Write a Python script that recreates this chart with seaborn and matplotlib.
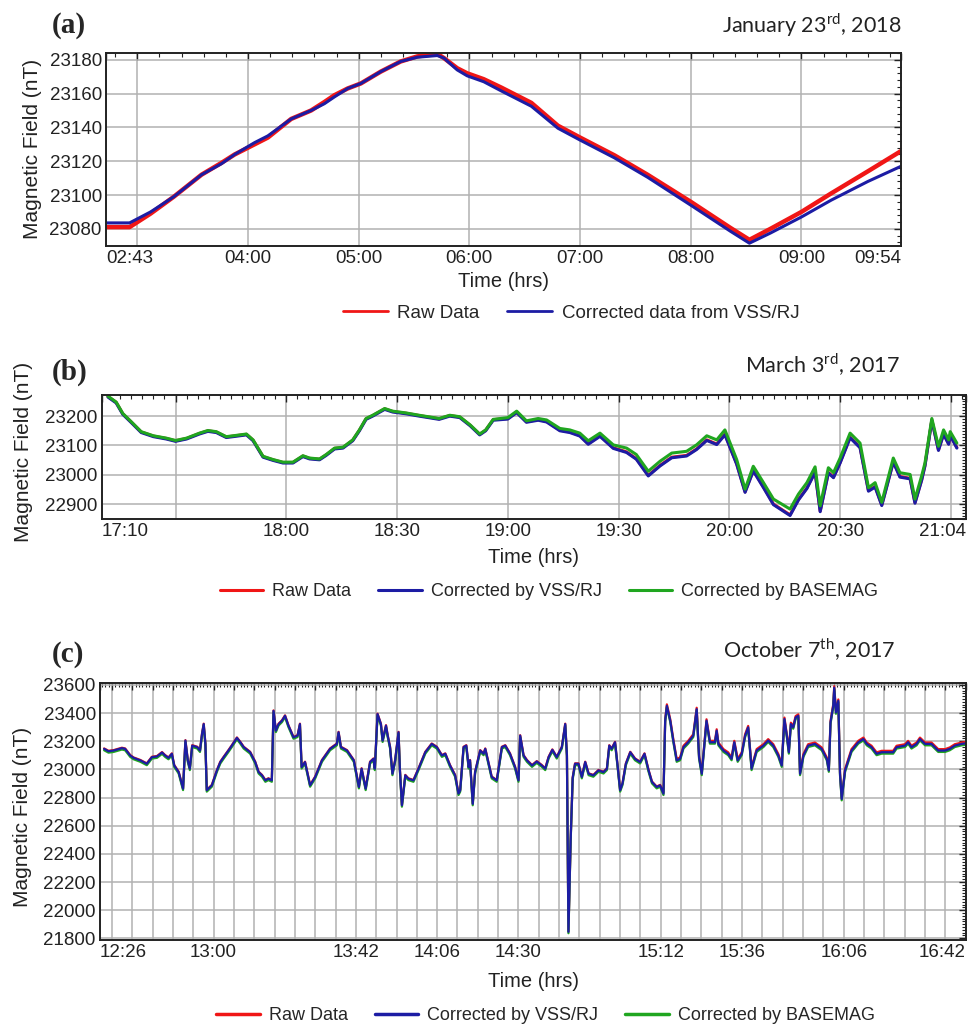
import matplotlib
matplotlib.use("Agg")
import matplotlib.pyplot as plt
import seaborn as sns
from matplotlib.lines import Line2D
from matplotlib.ticker import MultipleLocator

# ---------------- data ----------------
# (a) January 23rd 2018, time in decimal hours
a_time = [2.72, 2.93, 3.12, 3.33, 3.58, 3.76, 3.88, 4.06, 4.18, 4.39, 4.57, 4.69, 4.78,
          4.90, 5.02, 5.20, 5.38, 5.53, 5.71, 5.77, 5.89, 5.98, 6.13, 6.29, 6.56, 6.80,
          7.00, 7.31, 7.61, 8.00, 8.36, 8.53, 8.72, 9.00, 9.27, 9.60, 9.90]
a_raw = [23081, 23081, 23089, 23099, 23112, 23119, 23124, 23130, 23134, 23145, 23150,
         23155, 23159, 23163, 23166, 23173, 23179, 23182, 23183.5, 23181, 23175, 23172,
         23168.5, 23163.5, 23154.5, 23141, 23134, 23123.5, 23112, 23096, 23080.5, 23073.5,
         23080, 23090, 23101, 23114, 23126]
a_vss = [23083.5, 23083.5, 23090, 23099, 23112, 23118.5, 23124, 23131, 23135, 23145, 23150,
         23154, 23158, 23163, 23166, 23173, 23179, 23181.5, 23182.5, 23181, 23174, 23170.5,
         23167, 23161.5, 23152.5, 23139.5, 23132.5, 23122, 23110.5, 23094, 23078.5, 23071.5,
         23077.5, 23087, 23097, 23108, 23117]
a_tick_pos = [2.717, 3, 4, 5, 6, 7, 8, 9, 9.9]
a_tick_lab = ["02:43", "", "04:00", "05:00", "06:00", "07:00", "08:00", "09:00", "09:54"]

# (b) March 3rd 2017, time in decimal hours
b_time = [17.195, 17.232, 17.262, 17.30, 17.345, 17.40, 17.458, 17.50, 17.55, 17.608,
          17.646, 17.684, 17.729, 17.76, 17.82, 17.85, 17.895, 17.94, 17.985, 18.03,
          18.075, 18.105, 18.15, 18.18, 18.218, 18.256, 18.30, 18.33, 18.36, 18.39,
          18.444, 18.48, 18.54, 18.60, 18.69, 18.738, 18.783, 18.83, 18.873, 18.90,
          18.934, 19.0, 19.04, 19.084, 19.137, 19.175, 19.235, 19.28, 19.325, 19.363,
          19.416, 19.476, 19.536, 19.58, 19.634, 19.687, 19.74, 19.807, 19.852, 19.898,
          19.943, 19.98, 20.033, 20.071, 20.108, 20.154, 20.199, 20.274, 20.312, 20.35,
          20.387, 20.41, 20.447, 20.47, 20.5, 20.545, 20.59, 20.628, 20.658, 20.688,
          20.74, 20.77, 20.816, 20.838, 20.868, 20.883, 20.914, 20.944, 20.967, 20.99,
          20.997, 21.027]
b_basemag = [23268, 23248, 23209, 23181, 23147, 23133, 23125, 23117, 23125, 23142,
             23151, 23147, 23130, 23133, 23139, 23119, 23063, 23052, 23043, 23043,
             23065, 23057, 23054, 23069, 23091, 23094, 23119, 23153, 23192, 23203,
             23226, 23217, 23211, 23203, 23192, 23203, 23198, 23170, 23139, 23153,
             23189, 23195, 23217, 23184, 23192, 23187, 23158, 23153, 23142, 23116,
             23142, 23102, 23091, 23069, 23012, 23046, 23074, 23080, 23102, 23133,
             23119, 23153, 23052, 22951, 23029, 22973, 22917, 22883, 22934, 22973,
             23027, 22894, 23024, 23007, 23057, 23142, 23108, 22956, 22973, 22906,
             23057, 23007, 23001, 22917, 22996, 23040, 23192, 23097, 23153, 23119,
             23147, 23108]
b_vss = [23265, 23245, 23206, 23178, 23144, 23130, 23122, 23114, 23122, 23139,
         23148, 23144, 23127, 23130, 23136, 23116, 23060, 23049, 23040, 23040,
         23062, 23054, 23051, 23066, 23088, 23091, 23116, 23150, 23189, 23200,
         23223, 23214, 23208, 23200, 23189, 23200, 23195, 23167, 23136, 23150,
         23186, 23190, 23212, 23179, 23186, 23180, 23150, 23144, 23132, 23104,
         23131, 23090, 23076, 23053, 22996, 23030, 23058, 23064, 23086, 23117,
         23103, 23136, 23036, 22940, 23013, 22956, 22898, 22861, 22914, 22953,
         23008, 22874, 23006, 22990, 23040, 23126, 23092, 22944, 22958, 22895,
         23043, 22992, 22986, 22903, 22981, 23030, 23185, 23083, 23138, 23104,
         23134, 23091]
b_raw = [23267, 23247, 23208, 23180, 23146, 23132, 23124, 23116, 23124, 23141,
         23150, 23146, 23129, 23132, 23138, 23118, 23062, 23051, 23042, 23042,
         23064, 23056, 23053, 23068, 23090, 23093, 23118, 23152, 23191, 23202,
         23225, 23216, 23210, 23202, 23191, 23202, 23197, 23169, 23138, 23152,
         23188, 23192, 23214, 23181, 23188, 23182, 23152, 23146, 23134, 23106,
         23133, 23092, 23078, 23055, 22998, 23032, 23060, 23066, 23088, 23119,
         23105, 23138, 23038, 22942, 23015, 22958, 22900, 22863, 22916, 22955,
         23010, 22876, 23008, 22992, 23042, 23128, 23094, 22946, 22960, 22897,
         23045, 22994, 22988, 22905, 22983, 23032, 23187, 23085, 23140, 23106,
         23136, 23093]
b_tick_pos = [17.1667, 17.5, 18, 18.5, 19, 19.5, 20, 20.5, 21, 21.0667]
b_tick_lab = ["17:10", "", "18:00", "18:30", "19:00", "19:30", "20:00", "20:30", "", "21:04"]

# (c) October 7th 2017, time in minutes after 12:00
c_time = [27.7, 29.0, 30.5, 32.95, 33.9, 35.4, 36.4, 38.4, 40.3, 41.8,
          43.3, 44.8, 45.7, 46.7, 47.7, 48.4, 49.7, 51.0, 51.7, 52.4,
          53.0, 53.7, 55.2, 56.0, 56.6, 57.1, 57.6, 58.0, 59.5, 61.0,
          62.0, 63.0, 64.4, 65.4, 66.9, 67.9, 68.9, 70.8, 72.3, 73.3,
          74.3, 75.3, 76.2, 77.2, 77.7, 78.4, 79.2, 80.2, 81.1, 82.1,
          83.6, 84.8, 85.5, 86.0, 87.0, 88.5, 90.0, 92.0, 94.4, 96.4,
          96.9, 97.6, 99.4, 101.4, 102.9, 103.7, 104.9, 106.2, 107.2, 107.6,
          108.4, 109.4, 109.9, 110.9, 111.4, 112.1, 112.8, 113.6, 114.6, 115.0,
          115.6, 116.6, 117.5, 119.0, 120.5, 122.5, 124.4, 125.9, 127.4, 128.4,
          129.8, 131.3, 132.3, 132.8, 133.8, 134.6, 135.3, 135.7, 136.5, 137.2,
          138.7, 139.7, 140.2, 141.2, 142.1, 143.6, 145.1, 146.1, 147.5, 149.0,
          150.0, 150.5, 151.5, 152.5, 154.0, 155.4, 156.9, 157.9, 158.9, 160.0,
          161.3, 162.8, 163.8, 164.3, 164.75, 165.4, 166.0, 166.7, 167.7, 168.7,
          169.7, 170.7, 172.1, 173.6, 175.1, 176.1, 176.8, 177.5, 178.5, 179.3,
          180.0, 180.7, 181.7, 183.0, 184.4, 185.9, 187.2, 188.4, 189.4, 190.8,
          191.8, 192.8, 193.3, 193.8, 194.8, 195.7, 196.7, 197.7, 198.7, 200.1,
          201.6, 202.6, 203.3, 204.1, 204.9, 205.5, 206.5, 208.0, 208.5, 209.0,
          210.5, 211.9, 212.9, 213.7, 214.7, 215.9, 216.9, 217.8, 218.8, 220.3,
          222.3, 223.7, 225.2, 226.7, 227.7, 228.5, 229.2, 229.8, 230.4, 231.1,
          231.8, 232.6, 233.1, 234.1, 235.5, 237.5, 239.5, 241.0, 241.6, 242.1,
          242.9, 243.2, 243.7, 244.4, 244.9, 245.4, 246.4, 248.3, 250.3, 251.8,
          252.8, 254.2, 255.7, 257.2, 260.6, 261.6, 264.1, 265.0, 266.0, 267.5,
          268.5, 270.0, 271.9, 273.9, 275.9, 277.3, 278.8, 280.8, 282.0]
c_vss = [23146, 23129, 23134, 23151, 23146, 23099, 23082, 23064, 23040, 23087,
         23092, 23120, 23099, 23082, 23111, 23028, 22981, 22863, 23205, 23064,
         23005, 23169, 23158, 23134, 23252, 23322, 23181, 22852, 22887, 22993,
         23052, 23087, 23134, 23169, 23224, 23193, 23158, 23122, 23052, 22981,
         22958, 22922, 22934, 22922, 23416, 23275, 23322, 23346, 23381, 23311,
         23228, 23240, 23322, 23016, 23052, 22887, 22946, 23064, 23146, 23181,
         23264, 23158, 23134, 23064, 22875, 23005, 22863, 23052, 23075, 23005,
         23393, 23322, 23205, 23311, 23240, 23158, 22969, 23064, 23264, 23000,
         22745, 22958, 22934, 22922, 23005, 23122, 23181, 23158, 23099, 23111,
         23028, 22958, 22828, 22852, 23158, 23169, 23016, 23064, 22755, 22981,
         23134, 23111, 23146, 23040, 22946, 22922, 23158, 23169, 23111, 23016,
         22922, 23240, 23099, 23064, 23028, 23056, 23028, 23005, 23087, 23139,
         23087, 23158, 23322, 23100, 21846, 22500, 22940, 23040, 23040, 22946,
         23052, 22969, 22958, 22993, 22981, 23005, 23169, 23146, 23193, 23016,
         22852, 22899, 23040, 23122, 23075, 23052, 23111, 22993, 22911, 22875,
         22887, 22828, 23346, 23452, 23346, 23205, 23064, 23075, 23158, 23193,
         23240, 23428, 23087, 22969, 23181, 23346, 23193, 23193, 23275, 23181,
         23134, 23111, 23075, 23193, 23064, 23111, 23240, 23299, 23005, 23134,
         23169, 23205, 23169, 23099, 23028, 23358, 23240, 23122, 23322, 23299,
         23369, 23381, 22969, 23099, 23169, 23181, 23146, 23075, 22993, 23334,
         23452, 23581, 23405, 23487, 22969, 22790, 22993, 23134, 23193, 23216,
         23181, 23158, 23111, 23122, 23122, 23158, 23169, 23193, 23158, 23181,
         23216, 23181, 23181, 23134, 23134, 23146, 23169, 23181, 23185]
c_basemag = [23136, 23119, 23124, 23141, 23136, 23089, 23072, 23054, 23030, 23077,
             23082, 23110, 23089, 23072, 23101, 23018, 22971, 22853, 23195, 23054,
             22995, 23159, 23148, 23124, 23242, 23312, 23171, 22842, 22877, 22983,
             23042, 23077, 23124, 23159, 23214, 23183, 23148, 23112, 23042, 22971,
             22948, 22912, 22924, 22912, 23406, 23265, 23312, 23336, 23371, 23301,
             23218, 23230, 23312, 23006, 23042, 22877, 22936, 23054, 23136, 23171,
             23254, 23148, 23124, 23054, 22865, 22995, 22853, 23042, 23065, 22995,
             23383, 23312, 23195, 23301, 23230, 23148, 22959, 23054, 23254, 22990,
             22735, 22948, 22924, 22912, 22995, 23112, 23171, 23148, 23089, 23101,
             23018, 22948, 22818, 22842, 23148, 23159, 23006, 23054, 22745, 22971,
             23124, 23101, 23136, 23030, 22936, 22912, 23148, 23159, 23101, 23006,
             22912, 23230, 23089, 23054, 23018, 23046, 23018, 22995, 23077, 23129,
             23077, 23148, 23312, 23090, 21836, 22490, 22930, 23030, 23030, 22936,
             23042, 22959, 22948, 22983, 22971, 22995, 23159, 23136, 23183, 23006,
             22842, 22889, 23030, 23112, 23065, 23042, 23101, 22983, 22901, 22865,
             22877, 22818, 23336, 23442, 23336, 23195, 23054, 23065, 23148, 23183,
             23230, 23418, 23077, 22959, 23171, 23336, 23183, 23183, 23265, 23171,
             23124, 23101, 23065, 23183, 23054, 23101, 23230, 23289, 22995, 23124,
             23159, 23195, 23159, 23089, 23018, 23348, 23230, 23112, 23312, 23289,
             23359, 23371, 22959, 23089, 23159, 23171, 23136, 23065, 22983, 23324,
             23442, 23571, 23395, 23477, 22959, 22780, 22983, 23124, 23183, 23206,
             23171, 23148, 23101, 23112, 23112, 23148, 23159, 23183, 23148, 23171,
             23206, 23171, 23171, 23124, 23124, 23136, 23159, 23171, 23175]
c_raw = [23149, 23132, 23137, 23154, 23149, 23102, 23085, 23067, 23043, 23090,
         23095, 23123, 23102, 23085, 23114, 23031, 22984, 22866, 23208, 23067,
         23008, 23172, 23161, 23137, 23255, 23325, 23184, 22855, 22890, 22996,
         23055, 23090, 23137, 23172, 23227, 23196, 23161, 23125, 23055, 22984,
         22961, 22925, 22937, 22925, 23419, 23278, 23325, 23349, 23384, 23314,
         23231, 23243, 23325, 23019, 23055, 22890, 22949, 23067, 23149, 23184,
         23267, 23161, 23137, 23067, 22878, 23008, 22866, 23055, 23078, 23008,
         23396, 23325, 23208, 23314, 23243, 23161, 22972, 23067, 23267, 23003,
         22748, 22961, 22937, 22925, 23008, 23125, 23184, 23161, 23102, 23114,
         23031, 22961, 22831, 22855, 23161, 23172, 23019, 23067, 22758, 22984,
         23137, 23114, 23149, 23043, 22949, 22925, 23161, 23172, 23114, 23019,
         22925, 23243, 23102, 23067, 23031, 23059, 23031, 23008, 23090, 23142,
         23090, 23161, 23325, 23103, 21849, 22503, 22943, 23043, 23043, 22949,
         23055, 22972, 22961, 22996, 22984, 23008, 23172, 23149, 23196, 23019,
         22855, 22902, 23043, 23125, 23078, 23055, 23114, 22996, 22914, 22878,
         22890, 22838, 23356, 23462, 23356, 23215, 23074, 23085, 23168, 23203,
         23250, 23438, 23097, 22979, 23191, 23356, 23203, 23203, 23285, 23191,
         23144, 23121, 23085, 23203, 23074, 23121, 23250, 23309, 23015, 23144,
         23179, 23215, 23179, 23109, 23038, 23368, 23250, 23132, 23332, 23309,
         23379, 23391, 22979, 23109, 23179, 23191, 23156, 23085, 23003, 23344,
         23462, 23591, 23415, 23497, 22979, 22800, 23003, 23144, 23203, 23226,
         23191, 23168, 23121, 23132, 23132, 23168, 23179, 23203, 23168, 23191,
         23226, 23191, 23191, 23144, 23144, 23156, 23179, 23191, 23195]
c_grid_min = list(range(30, 283, 6))
c_tick_lab = {26.5: "12:26", 60: "13:00", 102: "13:42", 126: "14:06", 150: "14:30",
              192: "15:12", 216: "15:36", 246: "16:06", 282: "16:42"}

RED = "#f01616"
BLUE = "#1c1ca4"
GREEN = "#20a620"

sns.set_theme(style="white")
plt.rcParams["font.family"] = ["Liberation Sans", "DejaVu Sans"]
plt.rcParams["mathtext.fontset"] = "custom"
plt.rcParams["mathtext.rm"] = "Lato"

fig = plt.figure(figsize=(9.76, 10.29), dpi=100)
fig.patch.set_facecolor("white")

ax_a = fig.add_axes([0.1086, 0.7612, 0.8146, 0.1873])
ax_b = fig.add_axes([0.1042, 0.4956, 0.8852, 0.1205])
ax_c = fig.add_axes([0.1025, 0.0865, 0.8873, 0.2495])


def style_axis(ax, ticks, labels):
    ax.set_facecolor("white")
    for s in ax.spines.values():
        s.set_visible(True)
        s.set_color("#222222")
        s.set_linewidth(1.4)
    ax.set_xticks(ticks)
    ax.set_xticklabels(labels)
    tl = ax.get_xticklabels()
    tl[0].set_ha("left")
    tl[-1].set_ha("right")
    ax.grid(True, which="major", color="#b2b2b2", linewidth=1.1)
    ax.set_axisbelow(True)
    ax.tick_params(which="both", direction="in", top=True, right=True,
                   labelsize=13.5, pad=3, colors="#222222", labelcolor="#222222")
    ax.tick_params(which="major", length=5, width=1)
    ax.tick_params(which="minor", length=3, width=0.8)
    ax.set_xlabel("Time (hrs)", fontsize=14.5, color="#222222")
    ax.set_ylabel("Magnetic Field (nT)", fontsize=15, color="#222222")


# ---- panel (a)
sns.lineplot(x=a_time, y=a_raw, ax=ax_a, color=RED, linewidth=3.2,
             estimator=None, sort=False, legend=False)
sns.lineplot(x=a_time, y=a_vss, ax=ax_a, color=BLUE, linewidth=2.2,
             estimator=None, sort=False, legend=False)
ax_a.set_xlim(2.717, 9.9)
ax_a.set_ylim(23070, 23184)
ax_a.set_yticks([23080, 23100, 23120, 23140, 23160, 23180])
ax_a.yaxis.set_minor_locator(MultipleLocator(4))
ax_a.xaxis.set_minor_locator(MultipleLocator(0.2))
style_axis(ax_a, a_tick_pos, a_tick_lab)
ax_a.xaxis.set_label_coords(0.5, -0.135)
ax_a.yaxis.set_label_coords(-0.081, 0.5)

# ---- panel (b)
sns.lineplot(x=b_time, y=b_raw, ax=ax_b, color=RED, linewidth=2.2,
             estimator=None, sort=False, legend=False)
sns.lineplot(x=b_time, y=b_vss, ax=ax_b, color=BLUE, linewidth=2.2,
             estimator=None, sort=False, legend=False)
sns.lineplot(x=b_time, y=b_basemag, ax=ax_b, color=GREEN, linewidth=2.2,
             estimator=None, sort=False, legend=False)
ax_b.set_xlim(17.1667, 21.0667)
ax_b.set_ylim(22849, 23272)
ax_b.set_yticks([22900, 23000, 23100, 23200])
ax_b.yaxis.set_minor_locator(MultipleLocator(10))
ax_b.xaxis.set_minor_locator(MultipleLocator(0.05))
style_axis(ax_b, b_tick_pos, b_tick_lab)
ax_b.xaxis.set_label_coords(0.5, -0.23)
ax_b.yaxis.set_label_coords(-0.079, 0.545)

# ---- panel (c)
sns.lineplot(x=c_time, y=c_raw, ax=ax_c, color=RED, linewidth=1.6,
             estimator=None, sort=False, legend=False)
sns.lineplot(x=c_time, y=c_basemag, ax=ax_c, color=GREEN, linewidth=1.6,
             estimator=None, sort=False, legend=False)
sns.lineplot(x=c_time, y=c_vss, ax=ax_c, color=BLUE, linewidth=1.6,
             estimator=None, sort=False, legend=False)
ax_c.set_xlim(26.5, 282.1)
ax_c.set_ylim(21788, 23612)
ax_c.set_yticks(list(range(21800, 23601, 200)))
ax_c.yaxis.set_minor_locator(MultipleLocator(20))
ax_c.xaxis.set_minor_locator(MultipleLocator(1))
c_ticks = [26.5] + c_grid_min
style_axis(ax_c, c_ticks, [c_tick_lab.get(t, "") for t in c_ticks])
ax_c.xaxis.set_label_coords(0.5, -0.125)
ax_c.yaxis.set_label_coords(-0.079, 0.48)

# ---- panel letters and dates
for lab, yb in [("(a)", 33), ("(b)", 380), ("(c)", 662)]:
    fig.text(52 / 976, 1 - yb / 1029, lab, fontsize=21, fontweight="bold",
             family="Liberation Serif", va="baseline", ha="left")
for txt, xr, yb in [("January 23$^{\\mathrm{rd}}$, 2018", 902, 33),
                    ("March 3$^{\\mathrm{rd}}$, 2017", 900, 373),
                    ("October 7$^{\\mathrm{th}}$, 2017", 896, 658)]:
    fig.text(xr / 976, 1 - yb / 1029, txt, fontsize=15.5, family="Lato",
             va="baseline", ha="right", color="#222222")

# ---- legends
def handle(c, lw, lab):
    return Line2D([], [], color=c, linewidth=lw, label=lab)

leg_kw = dict(loc="center", frameon=False, handlelength=2.4,
              handletextpad=0.5, columnspacing=1.5, borderaxespad=0)
fig.legend(handles=[handle(RED, 2, "Raw Data"), handle(BLUE, 2, "Corrected data from VSS/RJ")],
           ncol=2, fontsize=13.5, bbox_to_anchor=(571 / 976, 1 - 313 / 1029), **leg_kw)
fig.legend(handles=[handle(RED, 2.2, "Raw Data"), handle(BLUE, 2.2, "Corrected by VSS/RJ"),
                    handle(GREEN, 2.2, "Corrected by BASEMAG")],
           ncol=3, fontsize=13, bbox_to_anchor=(549 / 976, 1 - 591.7 / 1029), **leg_kw)
fig.legend(handles=[handle(RED, 2.5, "Raw Data"), handle(BLUE, 2.5, "Corrected by VSS/RJ"),
                    handle(GREEN, 2.5, "Corrected by BASEMAG")],
           ncol=3, fontsize=13, bbox_to_anchor=(545.5 / 976, 1 - 1016 / 1029), **leg_kw)

fig.savefig("out.png", dpi=100, facecolor="white")
